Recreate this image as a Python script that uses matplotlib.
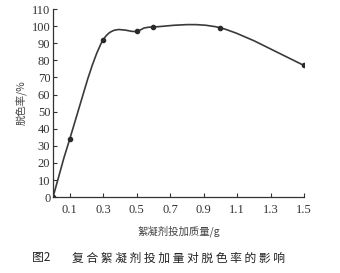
import matplotlib
matplotlib.use("Agg")
import matplotlib.pyplot as plt
from matplotlib.path import Path
from matplotlib.patches import PathPatch

# 絮凝剂投加质量 / 脱色率
dose = [0.0, 0.1, 0.3, 0.5, 0.6, 1.0, 1.5]
rate = [0.0, 34.0, 92.0, 97.0, 99.5, 99.0, 77.0]
xticks = [0.1, 0.3, 0.5, 0.7, 0.9, 1.1, 1.3, 1.5]
yticks = list(range(0, 111, 10))

cjk = ['Noto Sans CJK SC', 'DejaVu Sans']
serif = ['Liberation Serif', 'DejaVu Serif']


def smooth_path(xs, ys):
    # Catmull-Rom -> cubic Bezier segments through the data points
    pts = list(zip(xs, ys))
    verts = [pts[0]]
    codes = [Path.MOVETO]
    n = len(pts)
    for i in range(n - 1):
        p0 = pts[i - 1] if i > 0 else pts[i]
        p1 = pts[i]
        p2 = pts[i + 1]
        p3 = pts[i + 2] if i + 2 < n else pts[i + 1]
        c1 = (p1[0] + (p2[0] - p0[0]) / 6, p1[1] + (p2[1] - p0[1]) / 6)
        c2 = (p2[0] - (p3[0] - p1[0]) / 6, p2[1] - (p3[1] - p1[1]) / 6)
        verts += [c1, c2, p2]
        codes += [Path.CURVE4] * 3
    return Path(verts, codes)


fig = plt.figure(figsize=(3.4, 2.73), dpi=100)
ax = fig.add_axes([0.156, 0.278, 0.738, 0.689])

ax.add_patch(PathPatch(smooth_path(dose, rate), facecolor='none',
                       edgecolor='#3a3a3a', linewidth=1.2))
ax.plot(dose, rate, linestyle='none', marker='o', markersize=3,
        color='#2a2a2a')

ax.set_xlim(0, 1.5)
ax.set_ylim(0, 110)
ax.set_xticks(xticks)
ax.set_yticks(yticks)
ax.set_xticklabels([f"{v:g}" for v in xticks], family=serif, fontsize=9)
ax.set_yticklabels([str(v) for v in yticks], family=serif, fontsize=9)
ax.tick_params(axis='x', direction='in', length=3, width=0.8, pad=5,
               colors='#333333')
ax.tick_params(axis='y', direction='in', length=3, width=0.8, pad=2,
               colors='#333333')
for s in ['top', 'right']:
    ax.spines[s].set_visible(False)
for s in ['left', 'bottom']:
    ax.spines[s].set_color('#333333')
    ax.spines[s].set_linewidth(0.9)

ax.set_xlabel("絮凝剂投加质量/g", family=cjk, fontsize=7.5, color='#444444',
              labelpad=7)
ax.set_ylabel("脱色率/%", family=cjk, fontsize=7.5, color='#444444',
              labelpad=3)

fig.text(0.095, 0.055, "图2", family=cjk, fontsize=8.5, fontweight='medium',
         color='#222222', va='center', ha='left')
fig.text(0.212, 0.055, " ".join("复合絮凝剂投加量对脱色率的影响"), family=cjk,
         fontsize=8.5, fontweight='medium', color='#222222', va='center',
         ha='left')

fig.savefig("out.png", dpi=100)
